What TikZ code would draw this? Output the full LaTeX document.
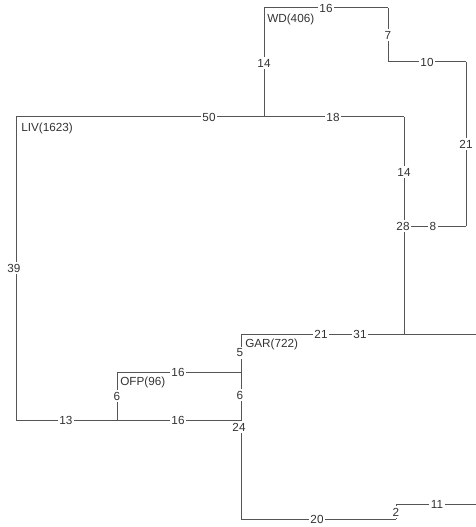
\documentclass[tikz,border=0pt]{standalone}
\usepackage{fontspec}
\setmainfont{Liberation Sans}
\usetikzlibrary{backgrounds}
\definecolor{ln}{HTML}{555555}
\definecolor{tx}{HTML}{333333}
\tikzstyle{w}=[fill=white,inner sep=1.3pt,outer sep=0pt,text=tx,font=\fontsize{8.8}{10}\selectfont]
\tikzstyle{t}=[anchor=west,inner sep=0pt,text=tx,font=\fontsize{8.8}{10}\selectfont]
\tikzstyle{br}=[draw=ln,line width=0.75pt]

\begin{document}
\begin{tikzpicture}[x=0.75pt,y=-0.75pt]
    \useasboundingbox (0,0) rectangle (475,527);
    \clip (0,0) rectangle (475,527);

                        % corners and joins
                        \coordinate (wd) at (264,8);
                        \coordinate (wdr) at (388,8);
                        \coordinate (k7) at (388,62);
                        \coordinate (k10) at (466,62);
                        \coordinate (k8) at (466,226);
                        \coordinate (liv) at (16,117);
                        \coordinate (j50) at (264,117);
                        \coordinate (k18) at (404,117);
                        \coordinate (j31) at (404,334);
                        \coordinate (gar) at (241,334);
                        \coordinate (e1) at (480,334);
                        \coordinate (lb) at (16,420);
                        \coordinate (jofp) at (117,420);
                        \coordinate (ofp) at (117,372);
                        \coordinate (j16) at (241,372);
                        \coordinate (k24) at (241,420);
                        \coordinate (gb) at (241,519);
                        \coordinate (k2b) at (396,519);
                        \coordinate (k2t) at (396,504);
                        \coordinate (e2) at (480,504);

                        % names
                        \node[t] (nwd) at (267,19) {WD(406)};
                        \node[t] (nliv) at (21,128) {LIV(1623)};
                        \node[t] (nofp) at (120,382) {OFP(96)};
                        \node[t] (ngar) at (245,344) {GAR(722)};

                        % lengths
                        \node[w] (l16t) at (326,8) {16};
                        \node[w] (l7) at (388,35) {7};
                        \node[w] (l10) at (427,62) {10};
                        \node[w] (l21r) at (466,144) {21};
                        \node[w] (l14w) at (264,63) {14};
                        \node[w] (l50) at (209,117) {50};
                        \node[w] (l18) at (333,117) {18};
                        \node[w] (l14) at (404,172) {14};
                        \node[w] (l28) at (403,226) {28};
                        \node[w] (l8) at (433,226) {8};
                        \node[w] (l39) at (14,268) {39};
                        \node[w] (l13) at (66,420) {13};
                        \node[w] (l16b) at (178,420) {16};
                        \node[w] (l16o) at (178,372) {16};
                        \node[w] (l6o) at (117,396) {6};
                        \node[w] (l5) at (240,353) {5};
                        \node[w] (l6g) at (240,395) {6};
                        \node[w] (l24) at (239,427) {24};
                        \node[w] (l21) at (321,334) {21};
                        \node[w] (l31) at (360,334) {31};
                        \node[w] (l20) at (317,519) {20};
                        \node[w] (l2) at (396,512) {2};
                        \node[w] (l11) at (437,504) {11};
                        \node[w] (l2r) at (479,418) {2};

                        \begin{scope}[on background layer]
                        \draw[br]
                        (j50) -- (wd)
                        (wd) -- (wdr)
                        (wdr) -- (k7)
                        (k7) -- (k10)
                        (k10) -- (k8)
                        (k8) -- (l28)
                        (liv) -- (k18)
                        (k18) -- (j31)
                        (liv) -- (lb)
                        (lb) -- (k24)
                        (jofp) -- (ofp)
                        (ofp) -- (j16)
                        (gar) -- (gb)
                        (gar) -- (e1)
                        (gb) -- (k2b)
                        (k2b) -- (k2t)
                        (k2t) -- (e2)

                        ;
                        \end{scope}

    \end{tikzpicture}
\end{document}
